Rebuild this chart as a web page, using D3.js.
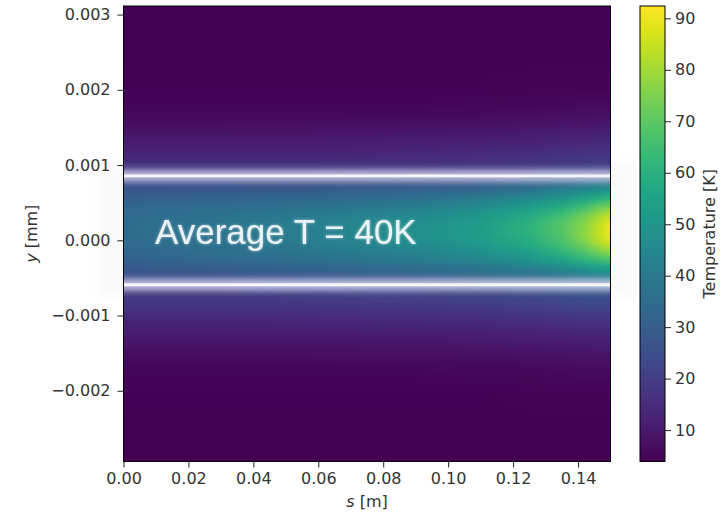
<!DOCTYPE html>
<html><head><meta charset="utf-8">
<script src="https://cdn.jsdelivr.net/npm/d3@7"></script>
<style>
body{margin:0;background:#fff;}
svg{display:block;}
text{font-family:"DejaVu Sans",sans-serif;}
</style>
</head><body>
<svg id="chart" width="724" height="512"></svg>
<script>
// ---------------- data ----------------
const sColumns = [0, 0.03, 0.06, 0.09, 0.11, 0.125, 0.135, 0.142, 0.147, 0.15];
const yEdges = [0.00311, 0.0021, 0.0019, 0.0017, 0.0016, 0.0015, 0.0014, 0.0013, 0.0012, 0.0011,
  0.001, 0.0009, 0.0008, 0.0007, 0.0006, 0.0005, 0.0004, 0.0003, 0.0002, 0.0001,
  0, -0.0001, -0.0002, -0.0003, -0.0004, -0.0005, -0.0006, -0.0007, -0.0008, -0.0009,
  -0.001, -0.0011, -0.0012, -0.0013, -0.0014, -0.0015, -0.0016, -0.0017, -0.0019, -0.0021, -0.00294];
const temps = [
  [4,4,4,4,4,4,4,4,4,4],
  [4.3,4.3,4.3,4.4,4.5,4.6,4.7,4.8,4.8,4.8],
  [5,5,5,5.2,5.4,5.6,5.8,6,6,6],
  [6,6,6,6.3,6.6,7,7.3,7.6,7.7,7.7],
  [7,7,7.1,7.4,7.8,8.3,8.7,9,9.2,9.2],
  [8.3,8.3,8.5,8.9,9.4,10,10.5,11,11.2,11.2],
  [9.8,9.8,10,10.5,11,11.7,12.3,12.8,13,13],
  [11.3,11.3,11.5,12,12.7,13.5,14.2,14.8,15,15],
  [13,13,13.2,13.8,14.5,15.4,16.2,16.8,17,17],
  [15,15,15.2,15.8,16.6,17.5,18.3,19,19.2,19.2],
  [17.5,17.5,17.8,18.4,19.2,20.2,21,21.7,22,22],
  [21,21,22,23,24,25,26,27,27,27],
  [25,25,26,27,29,32,35,38,40,41],
  [28,29,30,32,35,39,43,47,50,51],
  [31,32,34,37,41,46,51,56,60,62],
  [33,35,37,41,46,52,58,65,71,74],
  [34,37,40,45,50,57,64,72,79,83],
  [35,38,42,47,52,60,68,76,84,89],
  [35,38,42,48,53,61,69,77,85,91],
  [35,38,42,48,53,60,68,77,85,90],
  [34,37,41,46,51,58,66,74,82,86],
  [33,36,39,44,48,54,61,68,75,78],
  [31,34,37,41,45,50,56,62,66,68],
  [29,31,33,36,39,43,48,52,55,56],
  [26,27,29,31,34,37,40,43,45,46],
  [23,24,25,27,29,31,33,35,36,37],
  [21,21,22,23,24,26,27,28,29,29],
  [19,19,20,21,22,23,24,25,25,25],
  [17.5,17.5,18,19,20,21,22,23,23,23],
  [15.5,15.5,16,16.8,17.6,18.5,19.3,20,20.2,20.2],
  [13.5,13.5,14,14.6,15.3,16,16.7,17.3,17.5,17.5],
  [11.8,11.8,12.2,12.7,13.3,14,14.6,15,15.2,15.2],
  [10.2,10.2,10.5,11,11.5,12,12.5,13,13.2,13.2],
  [8.8,8.8,9,9.4,9.8,10.3,10.8,11.2,11.4,11.4],
  [7.6,7.6,7.8,8.1,8.5,8.9,9.3,9.6,9.8,9.8],
  [6.6,6.6,6.8,7,7.3,7.6,7.9,8.2,8.3,8.3],
  [5.8,5.8,5.9,6.1,6.3,6.6,6.8,7,7.1,7.1],
  [5,5,5,5.2,5.4,5.6,5.8,6,6,6],
  [4.3,4.3,4.3,4.4,4.5,4.6,4.7,4.8,4.8,4.8],
  [4,4,4,4,4,4,4,4,4,4]
];
const xDomain = [0, 0.15];
const yDomain = [-0.00294, 0.003114];
const colorDomain = [3.9, 92.4];
const xTicks = [0, 0.02, 0.04, 0.06, 0.08, 0.10, 0.12, 0.14];
const yTicks = [-0.002, -0.001, 0, 0.001, 0.002, 0.003];
const cbTicks = [10, 20, 30, 40, 50, 60, 70, 80, 90];
const wallLines = [0.000857, -0.000591];
const annotation = {text: "Average T = 40K", s: 0.0097, y: -0.00005};

// ---------------- layout ----------------
const svg = d3.select("#chart");
const plot = {left: 123.5, right: 610.5, top: 6, bottom: 461.5};
const cb = {left: 640, right: 665, top: 6, bottom: 461.5};

const x = d3.scaleLinear().domain(xDomain).range([plot.left, plot.right]);
const y = d3.scaleLinear().domain(yDomain).range([plot.bottom, plot.top]);
const color = d3.scaleSequential(d3.interpolateViridis).domain(colorDomain);
const cbY = d3.scaleLinear().domain(colorDomain).range([cb.bottom, cb.top]);

const defs = svg.append("defs");
defs.append("clipPath").attr("id", "plotClip").append("rect")
  .attr("x", plot.left).attr("y", plot.top)
  .attr("width", plot.right - plot.left).attr("height", plot.bottom - plot.top);

const glow = defs.append("filter").attr("id", "glow")
  .attr("filterUnits", "userSpaceOnUse")
  .attr("x", 0).attr("y", 0).attr("width", 724).attr("height", 512);
glow.append("feGaussianBlur").attr("stdDeviation", "1 3");

const shade = defs.append("filter").attr("id", "shade")
  .attr("filterUnits", "userSpaceOnUse")
  .attr("x", 0).attr("y", 0).attr("width", 724).attr("height", 512);
shade.append("feGaussianBlur").attr("stdDeviation", 6);

const textGlow = defs.append("filter").attr("id", "textGlow")
  .attr("x", -0.1).attr("y", -0.3).attr("width", 1.2).attr("height", 1.6);
textGlow.append("feGaussianBlur").attr("in", "SourceAlpha").attr("stdDeviation", 1.8).attr("result", "b");
textGlow.append("feFlood").attr("flood-color", "#ffffff").attr("flood-opacity", 0.55).attr("result", "f");
textGlow.append("feComposite").attr("in", "f").attr("in2", "b").attr("operator", "in").attr("result", "g");
const merge = textGlow.append("feMerge");
merge.append("feMergeNode").attr("in", "g");
merge.append("feMergeNode").attr("in", "SourceGraphic");

// faint shadow box behind the band region
svg.append("rect")
  .attr("x", x(xDomain[0]) - 25).attr("width", x(xDomain[1]) - x(xDomain[0]) + 50)
  .attr("y", y(wallLines[0]) - 12).attr("height", y(wallLines[1]) - y(wallLines[0]) + 24)
  .attr("fill", "#000").attr("fill-opacity", 0.025).attr("filter", "url(#shade)");

// row gradients (horizontal, through the x scale)
const span = x(xDomain[1]) - x(xDomain[0]);
temps.forEach((row, i) => {
  const g = defs.append("linearGradient").attr("id", "row" + i)
    .attr("x1", 0).attr("x2", 1).attr("y1", 0).attr("y2", 0);
  row.forEach((t, j) => {
    g.append("stop").attr("offset", (x(sColumns[j]) - x(xDomain[0])) / span)
      .attr("stop-color", color(t));
  });
});

// row geometry: each row blends linearly into the previous one between row centres
const last = temps.length - 1;
const centre = i => y((yEdges[i] + yEdges[i + 1]) / 2);
const rows = temps.map((d, i) => {
  const top = i === 0 ? y(yEdges[0]) - 4 : centre(i - 1);
  const bottom = i === last ? y(yEdges[last + 1]) + 4 : centre(i + 1) + 0.5;
  const f = i === 0 ? 0 : (centre(i) - top) / (bottom - top);
  return {i, top, bottom, f};
});
rows.forEach(r => {
  if (r.i === 0) return;
  const mg = defs.append("linearGradient").attr("id", "mg" + r.i)
    .attr("x1", 0).attr("x2", 0).attr("y1", 0).attr("y2", 1);
  mg.append("stop").attr("offset", 0).attr("stop-color", "#000");
  mg.append("stop").attr("offset", r.f).attr("stop-color", "#fff");
  mg.append("stop").attr("offset", 1).attr("stop-color", "#fff");
  defs.append("mask").attr("id", "mask" + r.i)
    .attr("maskUnits", "userSpaceOnUse")
    .attr("x", 0).attr("y", 0).attr("width", 724).attr("height", 512)
    .append("rect")
    .attr("x", x(xDomain[0]) - 1).attr("width", span + 2)
    .attr("y", r.top).attr("height", r.bottom - r.top)
    .attr("fill", `url(#mg${r.i})`);
});

const heat = svg.append("g").attr("clip-path", "url(#plotClip)");
heat.append("g").selectAll("rect").data(rows).join("rect")
  .attr("x", x(xDomain[0]))
  .attr("width", span)
  .attr("y", r => r.top)
  .attr("height", r => r.bottom - r.top)
  .attr("fill", r => `url(#row${r.i})`)
  .attr("mask", r => r.i === 0 ? null : `url(#mask${r.i})`);

// wall lines (white with glow)
const walls = heat.append("g");
walls.append("g").attr("filter", "url(#glow)")
  .selectAll("line").data(wallLines).join("line")
  .attr("x1", x(xDomain[0]) - 20).attr("x2", x(xDomain[1]) + 20)
  .attr("y1", d => y(d)).attr("y2", d => y(d))
  .attr("stroke", "#f4f0ff").attr("stroke-opacity", 0.7).attr("stroke-width", 12);
walls.selectAll("line.core").data(wallLines).join("line").attr("class", "core")
  .attr("x1", x(xDomain[0])).attr("x2", x(xDomain[1]))
  .attr("y1", d => y(d)).attr("y2", d => y(d))
  .attr("stroke", "#f6f6fb").attr("stroke-width", 2.8);

// annotation
svg.append("text")
  .attr("x", x(annotation.s)).attr("y", y(annotation.y))
  .attr("fill", "#eaf4f8")
  .style("font-family", "'Liberation Sans', Arial, sans-serif")
  .style("font-size", "35px")
  .attr("filter", "url(#textGlow)")
  .text(annotation.text);

// frame
svg.append("rect").attr("x", plot.left).attr("y", plot.top)
  .attr("width", plot.right - plot.left).attr("height", plot.bottom - plot.top)
  .attr("fill", "none").attr("stroke", "#000").attr("stroke-width", 1);

// axes
const fmtAxis = g => {
  g.select(".domain").remove();
  g.selectAll(".tick line").attr("stroke", "#222");
  g.selectAll(".tick text").attr("fill", "#333").style("font-size", "16px")
    .style("font-family", "'DejaVu Sans', sans-serif");
};
svg.append("g").attr("transform", `translate(0,${plot.bottom})`)
  .call(d3.axisBottom(x).tickValues(xTicks).tickFormat(d3.format(".2f")).tickSize(6).tickPadding(5))
  .call(fmtAxis);
svg.append("g").attr("transform", `translate(${plot.left},0)`)
  .call(d3.axisLeft(y).tickValues(yTicks).tickFormat(d3.format(".3f")).tickSize(6).tickPadding(7))
  .call(fmtAxis);

// axis labels
const xl = svg.append("text").attr("x", (plot.left + plot.right) / 2).attr("y", 507)
  .attr("text-anchor", "middle").attr("fill", "#333").style("font-size", "16px");
xl.append("tspan").style("font-style", "italic").text("s");
xl.append("tspan").text(" [m]");
const yl = svg.append("text")
  .attr("transform", `translate(37,${(plot.top + plot.bottom) / 2}) rotate(-90)`)
  .attr("text-anchor", "middle").attr("fill", "#333").style("font-size", "16px");
yl.append("tspan").style("font-style", "italic").text("y");
yl.append("tspan").text(" [mm]");

// colorbar
const cbGrad = defs.append("linearGradient").attr("id", "cbGrad")
  .attr("x1", 0).attr("x2", 0).attr("y1", 1).attr("y2", 0);
d3.range(0, 21).forEach(i => {
  const v = colorDomain[0] + (colorDomain[1] - colorDomain[0]) * i / 20;
  cbGrad.append("stop").attr("offset", (cbY(colorDomain[0]) - cbY(v)) / (cb.bottom - cb.top))
    .attr("stop-color", color(v));
});
svg.append("rect").attr("x", cb.left).attr("y", cb.top)
  .attr("width", cb.right - cb.left).attr("height", cb.bottom - cb.top)
  .attr("fill", "url(#cbGrad)").attr("stroke", "#000").attr("stroke-width", 1);
svg.append("g").attr("transform", `translate(${cb.right},0)`)
  .call(d3.axisRight(cbY).tickValues(cbTicks).tickFormat(d3.format("d")).tickSize(6).tickPadding(4))
  .call(fmtAxis);
svg.append("text")
  .attr("transform", `translate(715,${(cb.top + cb.bottom) / 2}) rotate(-90)`)
  .attr("text-anchor", "middle").attr("fill", "#333").style("font-size", "16px")
  .text("Temperature [K]");
</script>
</body></html>
